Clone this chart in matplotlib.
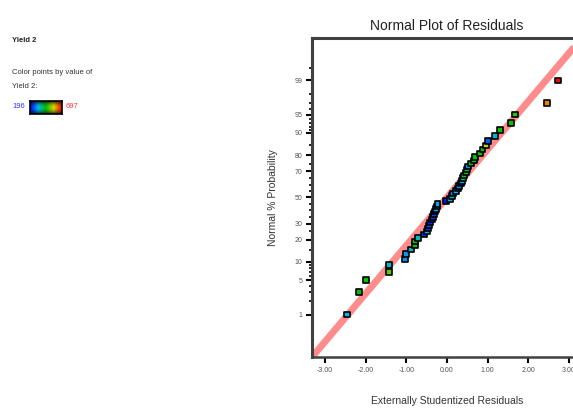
#!/usr/bin/env python
"""
Normal plot of residuals (Design-Expert style), points coloured by Yield 2.
"""
from statistics import NormalDist

import numpy as np
import matplotlib
matplotlib.use("Agg")
import matplotlib.pyplot as plt
from matplotlib.colors import LinearSegmentedColormap

plt.rcParams["font.family"] = ["Liberation Sans", "DejaVu Sans"]

# externally studentized residuals, sorted (rank 1..50)
residuals = [
    -2.46, -2.16, -1.99, -1.43, -1.43, -1.03, -1.01, -0.88, -0.79, -0.79,
    -0.71, -0.57, -0.49, -0.47, -0.44, -0.42, -0.37, -0.34, -0.32, -0.29,
    -0.27, -0.25, -0.23, -0.02, 0.07, 0.12, 0.15, 0.22, 0.27, 0.29,
    0.34, 0.37, 0.39, 0.42, 0.47, 0.49, 0.52, 0.59, 0.66, 0.69,
    0.81, 0.87, 0.96, 1.01, 1.18, 1.30, 1.57, 1.67, 2.46, 2.73,
]
# Yield 2 value of each point (colour)
yield2 = [
    321, 446, 450, 500, 346, 296, 300, 340, 440, 430,
    350, 230, 330, 240, 260, 220, 250, 235, 245, 225,
    320, 260, 310, 215, 330, 340, 290, 320, 250, 300,
    230, 310, 420, 380, 440, 430, 290, 450, 420, 440,
    460, 450, 560, 260, 340, 450, 450, 470, 620, 697,
]
yield_min, yield_max = 196, 697

prob_ticks = [1, 5, 10, 20, 30, 50, 70, 80, 90, 95, 99]
prob_minor = [2, 3, 4, 6, 7, 8, 9, 15, 25, 35, 40, 45, 55, 60, 65, 75, 85,
              91, 92, 93, 94, 96, 97, 98, 99.5]
x_ticks = [-3, -2, -1, 0, 1, 2, 3]
line_slope = 0.955

nd = NormalDist()
n = len(residuals)
z_pts = [nd.inv_cdf((i - 0.5) / n) for i in range(1, n + 1)]

cmap = LinearSegmentedColormap.from_list(
    "dx", ["#0000ff", "#00b8f0", "#00c000", "#d8d800", "#ff0000"])

fig = plt.figure(figsize=(5.73, 4.08), dpi=100)
ax = fig.add_axes([0.5445, 0.125, 0.471, 0.782])

xlim = (-3.32, 3.32)
ylim = (-3.17, 3.17)
ax.set_xlim(*xlim)
ax.set_ylim(*ylim)

# fitted line
lx = np.array(xlim)
ax.plot(lx, line_slope * lx, color="#ff8080", lw=5, solid_capstyle="butt",
        zorder=1, alpha=0.9)

ax.scatter(residuals, z_pts, c=yield2, cmap=cmap, vmin=yield_min,
           vmax=yield_max, marker="s", s=16, edgecolors="black",
           linewidths=1.2, zorder=3, clip_on=False)

ax.set_yticks([nd.inv_cdf(p / 100) for p in prob_ticks])
ax.set_yticklabels([str(p) for p in prob_ticks])
ax.set_yticks([nd.inv_cdf(p / 100) for p in prob_minor], minor=True)
ax.set_xticks(x_ticks)
ax.set_xticklabels([f"{v:.2f}" for v in x_ticks])

ax.tick_params(axis="both", which="major", labelsize=5, labelcolor="#555555",
               color="black", width=1.5, length=4, pad=3)
ax.tick_params(axis="y", which="minor", length=2, width=1.2, color="black")

for side in ["left", "top", "bottom"]:
    ax.spines[side].set_color("#404040")
ax.spines["left"].set_linewidth(2.2)
ax.spines["top"].set_linewidth(2.2)
ax.spines["bottom"].set_linewidth(1.8)
ax.spines["right"].set_visible(False)

ax.set_title("Normal Plot of Residuals", fontsize=10, color="#222222", pad=6)
ax.set_xlabel("Externally Studentized Residuals", fontsize=7.5,
              color="#333333", labelpad=16)
ax.set_ylabel("Normal % Probability", fontsize=7.5, color="#333333",
              labelpad=12)

# left-hand legend panel
fig.text(12 / 573, 1 - 40 / 408, "Yield 2", fontsize=5.5, weight="bold",
         va="center", color="#222222")
fig.text(12 / 573, 1 - 72 / 408, "Color points by value of", fontsize=5.5,
         va="center", color="#333333")
fig.text(12 / 573, 1 - 86 / 408, "Yield 2:", fontsize=5.5, va="center",
         color="#333333")
fig.text(12 / 573, 1 - 107 / 408, str(yield_min), fontsize=5.5, va="center",
         color="#3333ff")
fig.text(66 / 573, 1 - 107 / 408, str(yield_max), fontsize=5.5, va="center",
         color="#ff3333")

cax = fig.add_axes([30 / 573, 1 - 114 / 408, 32 / 573, 13 / 408])
grad = cmap(np.linspace(0, 1, 64))[:, :3]
shade = np.sin(np.linspace(0.15, np.pi - 0.15, 16)) ** 0.8
img = shade[:, None, None] * grad[None, :, :]
cax.imshow(img, aspect="auto")
cax.set_xticks([])
cax.set_yticks([])
for s in cax.spines.values():
    s.set_linewidth(1.2)
    s.set_color("black")

fig.savefig("out.png", dpi=100)
